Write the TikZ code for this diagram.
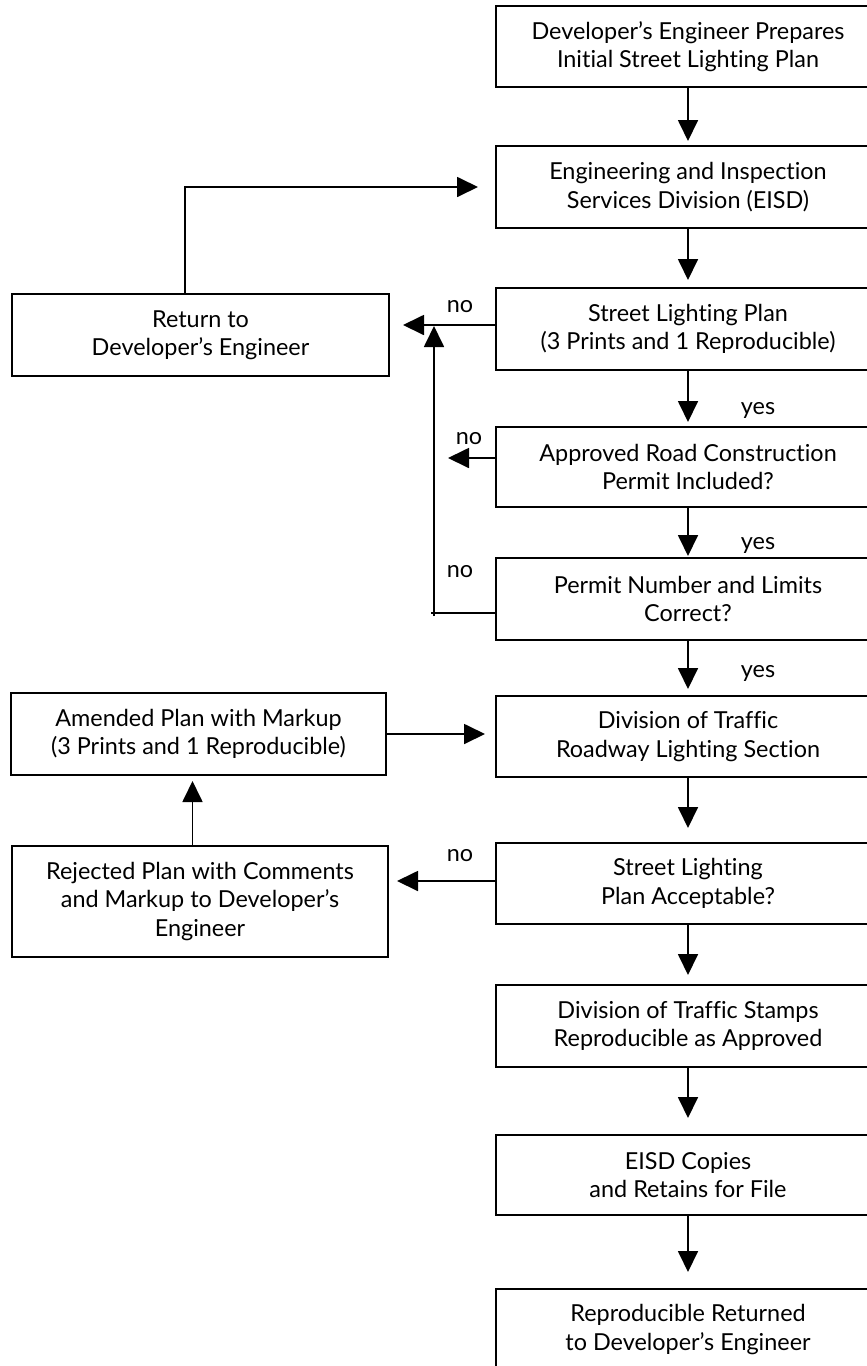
\documentclass[tikz,border=0pt]{standalone}
\usepackage{fontspec}
\setmainfont{Lato}[RawFeature={-liga}]
\usetikzlibrary{arrows.meta}
\begin{document}
\begin{tikzpicture}[x=1pt,y=-1pt,
  box/.style={draw, line width=2pt, align=center, inner sep=0pt, font=\fontsize{23.4}{28.5}\selectfont},
  rbox/.style={box, minimum width=384pt},
  arr/.style={line width=1.8pt, -{Triangle[width=20pt,length=21pt]}},
  plain/.style={line width=1.8pt},
  lbl/.style={font=\fontsize{23.4}{28}\selectfont, inner sep=0pt}]
\useasboundingbox (0,0) rectangle (867,1366);
\clip (0,0) rectangle (867,1366);
% right column
\node[rbox, minimum height=81pt] (b1) at (688,46.5) {Developer’s Engineer Prepares\\Initial Street Lighting Plan};
\node[rbox, minimum height=82pt] (b2) at (688,187) {Engineering and Inspection\\Services Division (EISD)};
\node[rbox, minimum height=82pt] (b3) at (688,329) {Street Lighting Plan\\(3 Prints and 1 Reproducible)};
\node[rbox, minimum height=80pt] (b4) at (688,467) {Approved Road Construction\\Permit Included?};
\node[rbox, minimum height=82pt] (b5) at (688,599) {Permit Number and Limits\\Correct?};
\node[rbox, minimum height=81pt] (b6) at (688,736.5) {Division of Traffic\\Roadway Lighting Section};
\node[rbox, minimum height=81pt] (b7) at (688,883.5) {Street Lighting\\Plan Acceptable?};
\node[rbox, minimum height=82pt] (b8) at (688,1026) {Division of Traffic Stamps\\Reproducible as Approved};
\node[rbox, minimum height=80pt] (b9) at (688,1175) {EISD Copies\\and Retains for File};
\node[rbox, minimum height=81pt] (b10) at (688,1329.5) {Reproducible Returned\\to Developer’s Engineer};
% left column
\node[box, minimum width=377pt, minimum height=82pt] (ret) at (200.5,335) {Return to\\Developer’s Engineer};
\node[box, minimum width=375pt, minimum height=82pt] (amd) at (198.5,734) {Amended Plan with Markup\\(3 Prints and 1 Reproducible)};
\node[box, minimum width=376pt, minimum height=111pt] (rej) at (200,901.5) {Rejected Plan with Comments\\and Markup to Developer’s\\Engineer};
% main flow
\draw[arr, shorten >=4pt] (b1) -- (b2);
\draw[arr, shorten >=7pt] (b2) -- (b3);
\draw[arr, shorten >=4pt] (b3) -- (b4);
\draw[arr, shorten >=1pt] (b4) -- (b5);
\draw[arr, shorten >=6pt] (b5) -- (b6);
\draw[arr, shorten >=14pt] (b6) -- (b7);
\draw[arr, shorten >=9pt] (b7) -- (b8);
\draw[arr, shorten >=16pt] (b8) -- (b9);
\draw[arr, shorten >=16pt] (b9) -- (b10);
% loop back to EISD
\coordinate (lx) at (185,0);
\draw[arr, shorten >=17pt] (ret.north -| lx) |- (b2.west);
% no branches
\coordinate (n3end) at (403,325);
\draw[arr] (b3.west |- n3end) -- (n3end);
\coordinate (n4end) at (448,458);
\draw[arr] (b4.west |- n4end) -- (n4end);
\coordinate (fbc) at (431,613);
\draw[plain] (b5.west |- fbc) -- (fbc);
\coordinate (fbv) at (434,616);
\coordinate (fbt) at (434,326);
\draw[arr] (fbv) -- (fbt);
\draw[arr, shorten >=10pt] (amd.east) -- (amd.east -| b6.west);
\coordinate (n7) at (0,881);
\draw[arr, shorten >=8pt] (b7.west |- n7) -- (rej.east |- n7);
\coordinate (ra) at (192.5,0);
\draw[arr, shorten >=5pt] (rej.north -| ra) -- (amd.south -| ra);
% labels
\node[lbl] (no1) at (460,307) {no};
\node[lbl] (no2) at (469,439) {no};
\node[lbl] (no3) at (460,572) {no};
\node[lbl] (no4) at (460,856) {no};
\node[lbl] (yes1) at (758,410) {yes};
\node[lbl] (yes2) at (758,545) {yes};
\node[lbl] (yes3) at (758,673) {yes};
\end{tikzpicture}
\end{document}
